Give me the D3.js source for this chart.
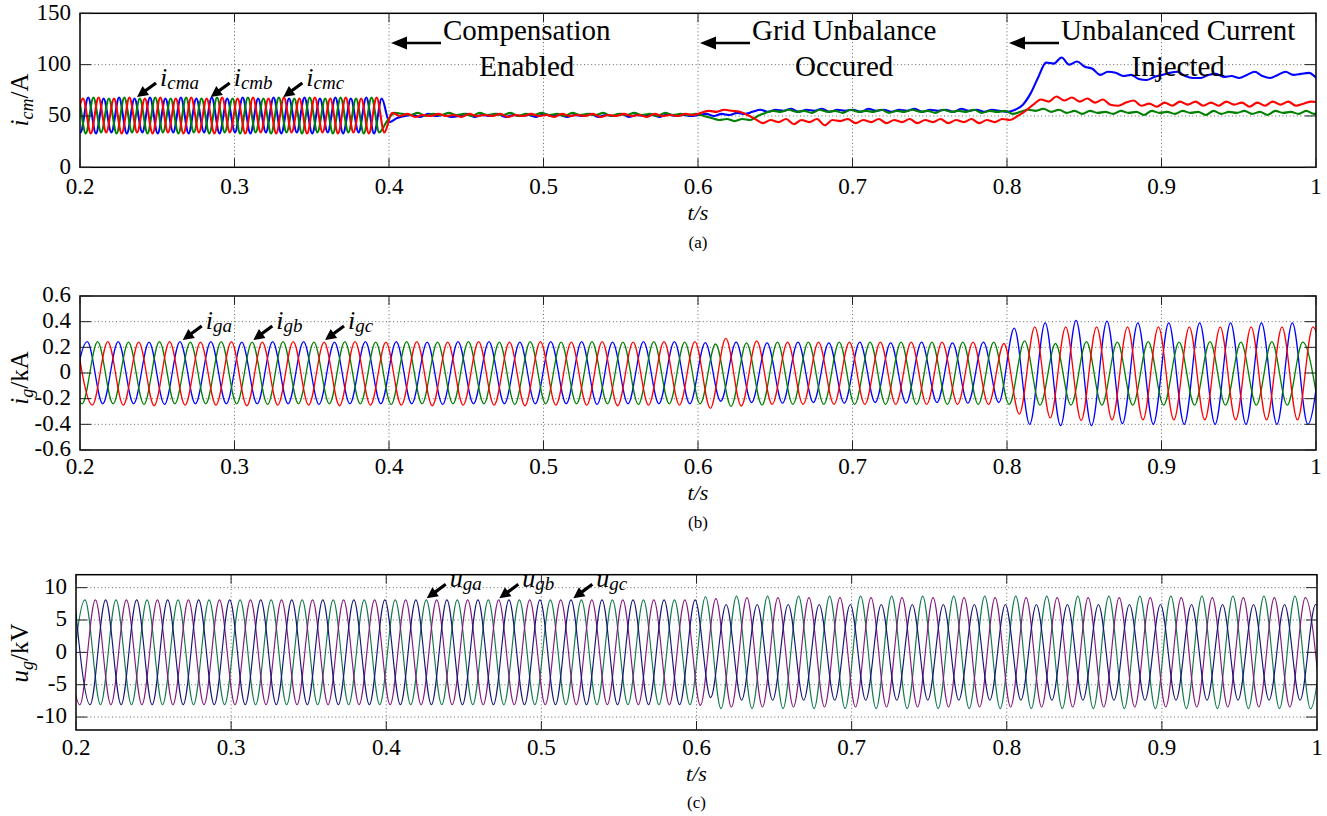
<!DOCTYPE html>
<html>
<head>
<meta charset="utf-8">
<script src="https://cdn.jsdelivr.net/npm/d3@7"></script>
<style>
  body { margin: 0; background: #fff; }
  svg { display: block; }
  svg text { font-family: 'Liberation Serif', 'DejaVu Serif', serif !important; fill: #000; }
</style>
</head>
<body>
<svg id="fig" width="1327" height="816" font-family="Liberation Serif, DejaVu Serif, serif"></svg>
<script>
// ---------------- data ----------------
// time axis
const timeTicks = [0.2, 0.3, 0.4, 0.5, 0.6, 0.7, 0.8, 0.9, 1.0];
const timeTickLabels = ["0.2", "0.3", "0.4", "0.5", "0.6", "0.7", "0.8", "0.9", "1"];

// (a) module currents i_cm [A]; extrema of the 100 Hz ripple every 5 ms
const icmTicks = [0, 50, 100, 150];
const icmaStart = 0.1953, icmbStart = 0.1937, icmcStart = 0.1970, icmStep = 0.005;
const icma = [67,34,68,33,67,34,68,33,67,34, 68,33,67,34,68,33,67,34,68,33, 67,34,68,33,67,34,68,33,67,34, 68,33,67,34,68,33,67,34,68,33, 67,
  44,48,50,
  51,49,52,50,51,49,50,52,49,51, 50,52,49,51,50,51,49,52,50,51, 49,51,50,52,49,51,50,52,49,51, 50,51,49,52,50,51,50,
  51,52,50,52,51,53,52,54,
  56,54,56,55,57,54,56,55,57,54, 56,55,56,54,57,55,56,54,56,55, 57,54,56,55,56,54,57,55,56,54, 56,55,
  54,56,61,72,88,102,101,107,100,103, 98,96,90,93,92,89,90,86,85,88, 90,92,93,89,87,87,90,91,88,89, 87,90,93,89,87,90,93,90,91,92, 87];
const icmb = [34,67,33,68,34,67,33,68,34,67, 33,68,34,67,33,68,34,67,33,68, 34,67,33,68,34,67,33,68,34,67, 33,68,34,67,33,68,34,67,33,68, 34,
  45,53,
  52,51,53,50,52,51,53,51,52,50, 53,51,52,51,53,50,52,51,53,51, 52,50,53,51,52,51,53,50,52,51, 53,51,52,50,53,51,52,51,52,
  50,48,46,47,45,47,46,50,
  53,55,54,56,54,55,53,56,54,55, 53,56,54,55,54,56,53,55,54,56, 54,55,53,56,54,55,54,56,53,55, 54,55,
  52,54,56,55,57,54,56,53,55,52, 55,53,54,52,55,53,54,51,55,53, 54,52,55,53,54,51,55,52,54,53, 55,52,54,51,55,53,54,52,55,52, 54];
const icmc = [34,67,33,68,34,67,33,68,34,67, 33,68,34,67,33,68,34,67,33,68, 34,67,33,68,34,67,33,68,34,67, 33,68,34,67,33,68,34,67,33,68, 34,
  53,
  50,52,49,51,50,52,50,51,49,52, 50,51,50,52,49,51,50,52,50,51, 49,52,50,51,50,52,49,51,50,52, 50,51,49,52,50,51,50,52,51,
  53,55,54,56,55,54,51,
  47,43,46,44,47,42,46,44,47,41, 46,45,47,43,46,44,47,43,46,44, 47,43,46,44,47,43,46,44,47,43, 46,44,47,
  46,50,55,61,66,64,69,65,68,64, 67,63,66,61,60,63,65,60,62,59, 63,60,64,61,64,60,63,60,64,61, 63,59,63,60,64,61,64,60,62,64, 63];

// (b) grid currents i_g [kA]; peaks and troughs every 10 ms
const igTicks = [-0.6, -0.4, -0.2, 0, 0.2, 0.4, 0.6];
const igTickLabels = ["-0.6", "-0.4", "-0.2", "0", "0.2", "0.4", "0.6"];
const igaStart = 0.1947, igbStart = 0.1914, igcStart = 0.198, igStep = 0.01;
const iga = [-0.24,0.245,-0.24,0.245,-0.24,0.24,-0.245,0.245,-0.24,0.245, -0.24,0.24,-0.24,0.245,-0.24,0.245,-0.245,0.24,-0.24,0.245,
  -0.24,0.245,-0.24,0.24,-0.245,0.245,-0.24,0.245,-0.24,0.24, -0.24,0.245,-0.24,0.245,-0.245,0.24,-0.24,0.245,-0.24,0.245, -0.24,
  0.236,-0.22,0.24,-0.23,0.235,-0.235,0.24,-0.23,0.235,-0.235, 0.24,-0.23,0.235,-0.235,0.24,-0.23,0.235,-0.235,0.24,-0.23,
  0.35,-0.40,0.39,-0.41,0.41,-0.41,0.405,-0.395,0.39,-0.40, 0.39,-0.40,0.39,-0.40,0.39,-0.40,0.39,-0.40,0.39,-0.40, 0.39];
const igb = [0.24,-0.24,0.245,-0.24,0.24,-0.245,0.245,-0.24,0.24,-0.24, 0.245,-0.24,0.24,-0.245,0.245,-0.24,0.24,-0.24,0.245,-0.24,
  0.24,-0.245,0.245,-0.24,0.24,-0.24,0.245,-0.24,0.24,-0.245, 0.245,-0.24,0.24,-0.24,0.245,-0.24,0.24,-0.245,0.245,-0.24, 0.24,
  -0.24,0.226,-0.26,0.235,-0.25,0.24,-0.245,0.24,-0.245,0.24, -0.245,0.24,-0.245,0.24,-0.245,0.24,-0.245,0.24,-0.245,0.24, -0.245,
  0.25,-0.25,0.23,-0.25,0.245,-0.25,0.24,-0.25,0.245,-0.25, 0.24,-0.25,0.245,-0.25,0.24,-0.25,0.245,-0.25,0.24,-0.25];
const igc = [0.24,-0.25,0.245,-0.25,0.24,-0.255,0.245,-0.25,0.24,-0.25, 0.245,-0.255,0.24,-0.25,0.245,-0.25,0.24,-0.255,0.245,-0.25,
  0.24,-0.25,0.245,-0.255,0.24,-0.25,0.245,-0.25,0.24,-0.255, 0.245,-0.25,0.24,-0.25,0.245,-0.255,0.24,-0.25,0.245,-0.25,
  0.245,-0.275,0.27,-0.257,0.25,-0.245,0.24,-0.245,0.24,-0.245, 0.24,-0.245,0.24,-0.245,0.24,-0.245,0.24,-0.245,0.24,-0.245, 0.23,
  -0.32,0.36,-0.35,0.36,-0.37,0.36,-0.365,0.36,-0.365,0.36, -0.365,0.36,-0.365,0.36,-0.365,0.36,-0.365,0.36,-0.365,0.36, -0.365];

// (c) grid voltages u_g [kV]; peaks and troughs every 10 ms
const ugTicks = [-10, -5, 0, 5, 10];
const ugaStart = 0.1958, ugbStart = 0.1925, ugcStart = 0.1991, ugStep = 0.01;
const uga = [-8.1,8.1,-8.1,8.1,-8.1,8.1,-8.1,8.1,-8.1,8.1, -8.1,8.1,-8.1,8.1,-8.1,8.1,-8.1,8.1,-8.1,8.1,
  -8.1,8.1,-8.1,8.1,-8.1,8.1,-8.1,8.1,-8.1,8.1, -8.1,8.1,-8.1,8.1,-8.1,8.1,-8.1,8.1,-8.1,8.1, -8.1,
  8.6,-8.7,8.7,-8.7,8.7,-8.7,8.7,-8.7,8.7,-8.7, 8.7,-8.7,8.7,-8.7,8.7,-8.7,8.7,-8.7,8.7,-8.7,
  8.7,-8.7,8.7,-8.7,8.7,-8.7,8.7,-8.7,8.7,-8.7, 8.7,-8.7,8.7,-8.7,8.7,-8.7,8.7,-8.7,8.7,-8.7, 8.7];
const ugb = [8.1,-8.1,8.1,-8.1,8.1,-8.1,8.1,-8.1,8.1,-8.1, 8.1,-8.1,8.1,-8.1,8.1,-8.1,8.1,-8.1,8.1,-8.1,
  8.1,-8.1,8.1,-8.1,8.1,-8.1,8.1,-8.1,8.1,-8.1, 8.1,-8.1,8.1,-8.1,8.1,-8.1,8.1,-8.1,8.1,-8.1, 8.1,
  -8.2,8.3,-8.45,8.45,-8.45,8.45,-8.45,8.45,-8.45,8.45, -8.45,8.45,-8.45,8.45,-8.45,8.45,-8.45,8.45,-8.45,8.45,
  -8.45,8.45,-8.45,8.45,-8.45,8.45,-8.45,8.45,-8.45,8.45, -8.45,8.45,-8.45,8.45,-8.45,8.45,-8.45,8.45,-8.45,8.45, -8.45];
const ugc = [8.1,-8.1,8.1,-8.1,8.1,-8.1,8.1,-8.1,8.1,-8.1, 8.1,-8.1,8.1,-8.1,8.1,-8.1,8.1,-8.1,8.1,-8.1,
  8.1,-8.1,8.1,-8.1,8.1,-8.1,8.1,-8.1,8.1,-8.1, 8.1,-8.1,8.1,-8.1,8.1,-8.1,8.1,-8.1,8.1,-8.1, 8.1,
  -7.0,7.4,-7.4,7.4,-7.4,7.4,-7.4,7.4,-7.4,7.4, -7.4,7.4,-7.4,7.4,-7.4,7.4,-7.4,7.4,-7.4,7.4,
  -7.4,7.4,-7.4,7.4,-7.4,7.4,-7.4,7.4,-7.4,7.4, -7.4,7.4,-7.4,7.4,-7.4,7.4,-7.4,7.4,-7.4,7.4, -7.4];

// event annotations in panel (a)
const eventTimes = [0.4, 0.6, 0.8];
const eventLevel = 121;
const eventLine1 = ["Compensation", "Grid Unbalance", "Unbalanced Current"];
const eventLine2 = ["Enabled", "Occured", "Injected"];

// phase labels: arrow tip at (time, value)
const icmLabelTimes = [0.2369, 0.2846, 0.3316], icmLabelLevel = 68.5, icmLabelSubs = ["cma", "cmb", "cmc"];
const igLabelTimes = [0.2665, 0.3122, 0.3586], igLabelLevel = 0.257, igLabelSubs = ["ga", "gb", "gc"];
const ugLabelTimes = [0.4261, 0.4729, 0.5206], ugLabelLevel = 8.35, ugLabelSubs = ["ga", "gb", "gc"];

// ---------------- drawing ----------------
const svg = d3.select("#fig");
const FONT = "Liberation Serif, DejaVu Serif, serif";

function toPoints(start, step, values) {
  return values.map((v, i) => ({ t: start + i * step, v }));
}

function addText(parent) {
  return parent.append("text").attr("font-family", FONT);
}

const panels = [
  {
    id: "a", left: 80, right: 1316, top: 13.3, bottom: 167.3, domain: [0, 150],
    yTicks: icmTicks, yLabels: icmTicks.map(String), lw: 2.1,
    series: [
      { pts: toPoints(icmaStart, icmStep, icma), color: "#0000ff" },
      { pts: toPoints(icmbStart, icmStep, icmb), color: "#008000" },
      { pts: toPoints(icmcStart, icmStep, icmc), color: "#ff0000" }
    ],
    title: { main: "i", sub: "cm", unit: "/A", x: 28, y: 100 },
    labels: { main: "i", subs: icmLabelSubs, times: icmLabelTimes, level: icmLabelLevel },
    tickY: 194, axisY: 220, capY: 248, cap: "(a)"
  },
  {
    id: "b", left: 80, right: 1316, top: 296, bottom: 450, domain: [-0.6, 0.6],
    yTicks: igTicks, yLabels: igTickLabels, lw: 1.3,
    series: [
      { pts: toPoints(igaStart, igStep, iga), color: "#0000ff" },
      { pts: toPoints(igbStart, igStep, igb), color: "#008000" },
      { pts: toPoints(igcStart, igStep, igc), color: "#ff0000" }
    ],
    title: { main: "i", sub: "g", unit: "/kA", x: 28, y: 378 },
    labels: { main: "i", subs: igLabelSubs, times: igLabelTimes, level: igLabelLevel },
    tickY: 474, axisY: 500, capY: 528, cap: "(b)"
  },
  {
    id: "c", left: 76, right: 1317, top: 574.7, bottom: 730, domain: [-12, 12],
    yTicks: ugTicks, yLabels: ugTicks.map(String), lw: 1.15,
    series: [
      { pts: toPoints(ugaStart, ugStep, uga), color: "#127a4c" },
      { pts: toPoints(ugbStart, ugStep, ugb), color: "#85197f" },
      { pts: toPoints(ugcStart, ugStep, ugc), color: "#161678" }
    ],
    title: { main: "u", sub: "g", unit: "/kV", x: 28, y: 653 },
    labels: { main: "u", subs: ugLabelSubs, times: ugLabelTimes, level: ugLabelLevel },
    tickY: 755, axisY: 781, capY: 808, cap: "(c)"
  }
];

function arrow(g, tip, tail, headLen, headHalf, shaft) {
  const dx = tip[0] - tail[0], dy = tip[1] - tail[1];
  const len = Math.hypot(dx, dy), ux = dx / len, uy = dy / len;
  const bx = tip[0] - ux * headLen, by = tip[1] - uy * headLen;
  g.append("line")
    .attr("x1", tail[0]).attr("y1", tail[1])
    .attr("x2", bx + ux * 1).attr("y2", by + uy * 1)
    .attr("stroke", "#000").attr("stroke-width", shaft);
  g.append("path")
    .attr("d", `M${tip[0]},${tip[1]} L${bx - uy * headHalf},${by + ux * headHalf} L${bx + uy * headHalf},${by - ux * headHalf} Z`)
    .attr("fill", "#000");
}

panels.forEach(p => {
  const x = d3.scaleLinear().domain([0.2, 1.0]).range([p.left, p.right]);
  const y = d3.scaleLinear().domain(p.domain).range([p.bottom, p.top]);
  p.x = x; p.y = y;
  const g = svg.append("g").attr("class", "panel-" + p.id);

  // dotted grid
  const grid = g.append("g").attr("stroke", "#555").attr("stroke-width", 0.9)
    .attr("stroke-dasharray", "1,2.6");
  timeTicks.slice(1, -1).forEach(t => {
    grid.append("line").attr("x1", x(t)).attr("x2", x(t)).attr("y1", p.top).attr("y2", p.bottom);
  });
  p.yTicks.filter(v => v > p.domain[0] && v < p.domain[1]).forEach(v => {
    grid.append("line").attr("x1", p.left).attr("x2", p.right).attr("y1", y(v)).attr("y2", y(v));
  });

  // waveforms
  const clipId = "clip-" + p.id;
  g.append("clipPath").attr("id", clipId).append("rect")
    .attr("x", p.left).attr("y", p.top).attr("width", p.right - p.left).attr("height", p.bottom - p.top);
  const line = d3.line().x(d => x(d.t)).y(d => y(d.v)).curve(d3.curveMonotoneX);
  const lines = g.append("g").attr("clip-path", `url(#${clipId})`);
  p.series.forEach(s => {
    lines.append("path").attr("d", line(s.pts)).attr("fill", "none")
      .attr("stroke", s.color).attr("stroke-width", p.lw).attr("stroke-linejoin", "round");
  });

  // frame
  g.append("rect").attr("x", p.left).attr("y", p.top)
    .attr("width", p.right - p.left).attr("height", p.bottom - p.top)
    .attr("fill", "none").attr("stroke", "#000").attr("stroke-width", 1.5);

  // inward ticks
  const ticks = g.append("g").attr("stroke", "#222").attr("stroke-width", 1);
  p.yTicks.forEach(v => {
    ticks.append("line").attr("x1", p.left).attr("x2", p.left + 11).attr("y1", y(v)).attr("y2", y(v));
    ticks.append("line").attr("x1", p.right).attr("x2", p.right - 11).attr("y1", y(v)).attr("y2", y(v));
  });
  timeTicks.forEach(t => {
    ticks.append("line").attr("x1", x(t)).attr("x2", x(t)).attr("y1", p.bottom).attr("y2", p.bottom - 9);
    ticks.append("line").attr("x1", x(t)).attr("x2", x(t)).attr("y1", p.top).attr("y2", p.top + 9);
  });

  // tick labels
  timeTicks.forEach((t, i) => {
    addText(g).attr("x", x(t)).attr("y", p.tickY).attr("text-anchor", "middle")
      .attr("font-size", 23).text(timeTickLabels[i]);
  });
  p.yTicks.forEach((v, i) => {
    addText(g).attr("x", p.left - 9).attr("y", y(v)).attr("dy", "0.28em")
      .attr("text-anchor", "end").attr("font-size", 23).text(p.yLabels[i]);
  });

  // axis titles
  addText(g).attr("x", (p.left + p.right) / 2).attr("y", p.axisY)
    .attr("text-anchor", "middle").attr("font-size", 22).attr("font-style", "italic").text("t/s");
  const ty = addText(g).attr("transform", `translate(${p.title.x},${p.title.y}) rotate(-90)`)
    .attr("text-anchor", "middle").attr("font-size", 25);
  ty.append("tspan").attr("font-style", "italic").text(p.title.main);
  ty.append("tspan").attr("font-style", "italic").attr("font-size", 18).attr("dy", 5).text(p.title.sub);
  ty.append("tspan").attr("dy", -5).text(p.title.unit);

  // caption
  addText(g).attr("x", (p.left + p.right) / 2).attr("y", p.capY)
    .attr("text-anchor", "middle").attr("font-size", 17).text(p.cap);

  // phase labels with arrows
  const lab = p.labels;
  lab.times.forEach((t, i) => {
    const tip = [x(t), y(lab.level)];
    arrow(g, tip, [tip[0] + 19, tip[1] - 14], 11, 5.5, 3.2);
    const tt = addText(g).attr("x", tip[0] + 23).attr("y", tip[1] - 11).attr("font-style", "italic");
    tt.append("tspan").attr("font-size", 26).text(lab.main);
    tt.append("tspan").attr("font-size", 19).attr("dy", 3).text(lab.subs[i]);
  });
});

// event annotations in panel (a)
const pa = panels[0];
const ev = svg.append("g").attr("class", "events");
eventTimes.forEach((t, i) => {
  const tip = [pa.x(t) + 2, pa.y(eventLevel)];
  arrow(ev, tip, [tip[0] + 50, tip[1]], 16, 6.5, 2.6);
  const t1 = addText(ev).attr("x", tip[0] + 52).attr("y", 40)
    .attr("font-size", 29).text(eventLine1[i]);
  const w = t1.node().getComputedTextLength();
  addText(ev).attr("x", tip[0] + 52 + w / 2).attr("y", 76)
    .attr("text-anchor", "middle").attr("font-size", 29).text(eventLine2[i]);
});
</script>
</body>
</html>
